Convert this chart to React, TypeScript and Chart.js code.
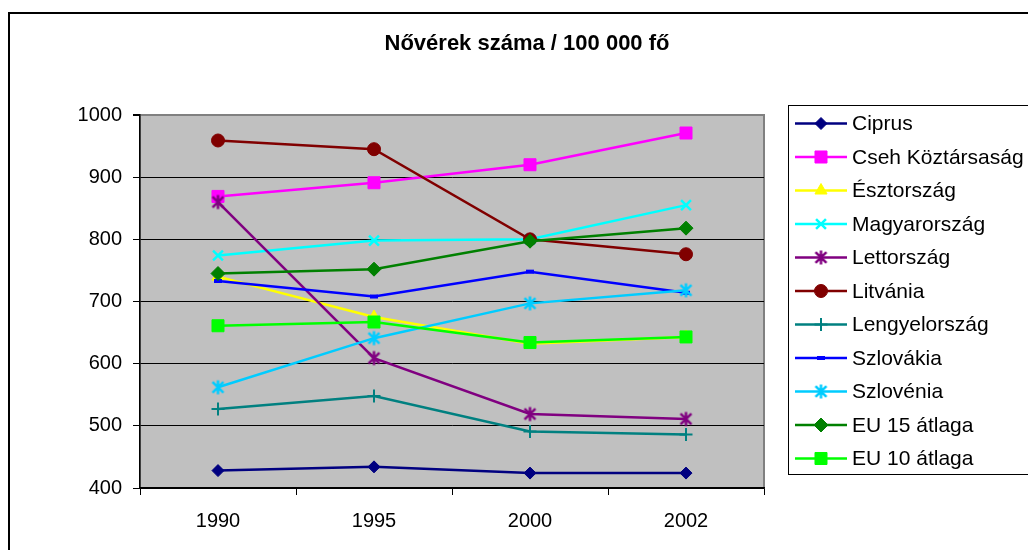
import React, { useEffect, useRef } from 'react';
import { Chart, registerables } from 'chart.js';

Chart.register(...registerables);

const FONT = '"Liberation Sans", Arial, Helvetica, sans-serif';
const chartTitle = 'Nővérek száma / 100 000 fő';

const years = ['1990', '1995', '2000', '2002'];

const ciprus = [428, 434, 424, 424];
const cseh = [869, 891, 920, 971];
const esztorszag = [740, 675, 632, 643];
const magyarorszag = [774, 798, 800, 855];
const lettorszag = [860, 609, 519, 511];
const litvania = [959, 945, 800, 776];
const lengyelorszag = [527, 548, 491, 486];
const szlovakia = [733, 708, 748, 714];
const szlovenia = [562, 641, 697, 718];
const eu15 = [745, 752, 797, 818];
const eu10 = [661, 667, 634, 643];

const seriesNames = [
  'Ciprus',
  'Cseh Köztársaság',
  'Észtország',
  'Magyarország',
  'Lettország',
  'Litvánia',
  'Lengyelország',
  'Szlovákia',
  'Szlovénia',
  'EU 15 átlaga',
  'EU 10 átlaga',
];
const seriesValues = [
  ciprus, cseh, esztorszag, magyarorszag, lettorszag, litvania,
  lengyelorszag, szlovakia, szlovenia, eu15, eu10,
];
const seriesColors = [
  '#000080', '#FF00FF', '#FFFF00', '#00FFFF', '#800080', '#800000',
  '#008080', '#0000FF', '#00CCFF', '#008000', '#00FF00',
];
const seriesMarkers = [
  'rectRot', 'rect', 'triangle', 'crossRot', 'asterisk', 'circle',
  'cross', 'line', 'asterisk', 'rectRot', 'rect',
];
const markerRadius = [6, 8.5, 7, 7, 7, 6.5, 6.5, 4, 7, 7, 8.5];
const markerBorder = [1, 1, 1, 2.5, 2.5, 1, 2, 4, 2.5, 1, 1];

const yMin = 400;
const yMax = 1000;
const yStep = 100;

function makeAsterisk(color: string, r: number, lw: number): HTMLCanvasElement {
  const c = document.createElement('canvas');
  const s = Math.ceil(2 * r + lw + 2);
  c.width = s;
  c.height = s;
  const g = c.getContext('2d')!;
  const cx = s / 2;
  g.strokeStyle = color;
  g.lineWidth = lw;
  g.lineCap = 'butt';
  const a = r * 0.78;
  g.beginPath();
  g.moveTo(cx, cx - r);
  g.lineTo(cx, cx + r);
  g.moveTo(cx - a, cx - a);
  g.lineTo(cx + a, cx + a);
  g.moveTo(cx - a, cx + a);
  g.lineTo(cx + a, cx - a);
  g.stroke();
  return c;
}

function drawMarker(ctx: CanvasRenderingContext2D, style: any, x: number, y: number, r: number, color: string, bw: number) {
  ctx.save();
  ctx.fillStyle = color;
  ctx.strokeStyle = color;
  ctx.lineWidth = bw;
  if (typeof style === 'object') {
    ctx.drawImage(style, x - style.width / 2, y - style.height / 2);
    ctx.restore();
    return;
  }
  ctx.beginPath();
  const s2 = Math.SQRT1_2 * r;
  switch (style) {
    case 'rectRot':
      ctx.moveTo(x - r, y);
      ctx.lineTo(x, y - r);
      ctx.lineTo(x + r, y);
      ctx.lineTo(x, y + r);
      ctx.closePath();
      ctx.fill();
      ctx.stroke();
      break;
    case 'rect':
      ctx.rect(x - s2, y - s2, 2 * s2, 2 * s2);
      ctx.fill();
      ctx.stroke();
      break;
    case 'triangle': {
      const t = (2 * Math.PI) / 3;
      ctx.moveTo(x, y - r);
      ctx.lineTo(x + Math.sin(t) * r, y - Math.cos(t) * r);
      ctx.lineTo(x + Math.sin(2 * t) * r, y - Math.cos(2 * t) * r);
      ctx.closePath();
      ctx.fill();
      ctx.stroke();
      break;
    }
    case 'circle':
      ctx.arc(x, y, r, 0, Math.PI * 2);
      ctx.fill();
      ctx.stroke();
      break;
    case 'crossRot':
      ctx.moveTo(x - s2, y - s2);
      ctx.lineTo(x + s2, y + s2);
      ctx.moveTo(x - s2, y + s2);
      ctx.lineTo(x + s2, y - s2);
      ctx.stroke();
      break;
    case 'cross':
      ctx.moveTo(x, y - r);
      ctx.lineTo(x, y + r);
      ctx.moveTo(x - r, y);
      ctx.lineTo(x + r, y);
      ctx.stroke();
      break;
    case 'line':
      ctx.moveTo(x - r, y);
      ctx.lineTo(x + r, y);
      ctx.stroke();
      break;
  }
  ctx.restore();
}

export default function App() {
  const ref = useRef<HTMLCanvasElement | null>(null);

  useEffect(() => {
    if (!ref.current) return;
    const styles: any[] = seriesMarkers.map((m, i) =>
      m === 'asterisk' ? makeAsterisk(seriesColors[i], markerRadius[i], markerBorder[i]) : m
    );
    const n = seriesNames.length;

    const deco = {
      id: 'deco',
      beforeDraw(chart: any) {
        const ctx: CanvasRenderingContext2D = chart.ctx;
        const a = chart.chartArea;
        ctx.save();
        ctx.fillStyle = '#ffffff';
        ctx.fillRect(0, 0, chart.width, chart.height);
        ctx.strokeStyle = '#000000';
        ctx.lineWidth = 2;
        ctx.strokeRect(9, 13, 1200, 700);
        ctx.fillStyle = '#C0C0C0';
        ctx.fillRect(a.left, a.top, a.right - a.left, a.bottom - a.top);
        ctx.strokeStyle = '#808080';
        ctx.lineWidth = 2;
        ctx.strokeRect(a.left, a.top, a.right - a.left, a.bottom - a.top);
        ctx.fillStyle = '#000000';
        ctx.font = `bold 22px ${FONT}`;
        ctx.textAlign = 'center';
        ctx.textBaseline = 'middle';
        ctx.fillText(chartTitle, 527, 44);
        ctx.restore();
      },
      afterDraw(chart: any) {
        const ctx: CanvasRenderingContext2D = chart.ctx;
        ctx.save();
        ctx.strokeStyle = '#000000';
        ctx.lineWidth = 1;
        ctx.strokeRect(788.5, 105.5, 400, 369);
        ctx.font = `21px ${FONT}`;
        ctx.textAlign = 'left';
        ctx.textBaseline = 'middle';
        for (let i = 0; i < n; i++) {
          const y = 123.5 + i * 33.5;
          ctx.strokeStyle = seriesColors[i];
          ctx.lineWidth = 2.5;
          ctx.beginPath();
          ctx.moveTo(795, y);
          ctx.lineTo(847, y);
          ctx.stroke();
          drawMarker(ctx, styles[i], 821, y, markerRadius[i], seriesColors[i], markerBorder[i]);
          ctx.fillStyle = '#000000';
          ctx.fillText(seriesNames[i], 852, y + 1);
        }
        ctx.restore();
      },
    };

    const chart = new Chart(ref.current, {
      type: 'line',
      data: {
        labels: years,
        datasets: seriesNames.map((name, i) => ({
          label: name,
          data: seriesValues[i],
          borderColor: seriesColors[i],
          backgroundColor: seriesColors[i],
          borderWidth: 2.5,
          pointStyle: styles[i],
          pointRadius: markerRadius[i],
          pointBorderWidth: markerBorder[i],
          pointBorderColor: seriesColors[i],
          pointBackgroundColor: seriesColors[i],
          tension: 0,
          fill: false,
          order: n - i,
        })),
      },
      options: {
        responsive: false,
        animation: false,
        events: [],
        layout: { padding: { left: 0, top: 115, right: 264, bottom: 0 } },
        plugins: {
          legend: { display: false },
          title: { display: false },
          tooltip: { enabled: false },
        },
        scales: {
          x: {
            type: 'category',
            offset: true,
            afterFit: (s: any) => { s.height = 62; },
            grid: {
              offset: true,
              drawOnChartArea: false,
              drawTicks: true,
              tickLength: 7,
              color: '#000000',
              tickColor: '#000000',
            },
            border: { display: true, color: '#000000', width: 1.5 },
            ticks: {
              color: '#000000',
              font: { family: FONT, size: 20 },
              padding: 14,
              maxRotation: 0,
              autoSkip: false,
            },
          },
          y: {
            min: yMin,
            max: yMax,
            afterFit: (s: any) => { s.width = 140; },
            grid: {
              color: (c: any) => (c.tick && c.tick.value === yMax ? '#808080' : '#000000'),
              lineWidth: (c: any) => (c.tick && c.tick.value === yMax ? 2 : 1),
              tickColor: '#000000',
              tickLength: 7,
              drawTicks: true,
            },
            border: { display: true, color: '#000000', width: 1.5 },
            ticks: {
              stepSize: yStep,
              color: '#000000',
              font: { family: FONT, size: 20 },
              padding: 11,
              callback: (v: any) => String(v),
            },
          },
        },
      },
      plugins: [deco],
    } as any);
    return () => chart.destroy();
  }, []);

  return (
    <div style={{ position: 'absolute', left: 0, top: 0, width: 1028, height: 550, background: '#fff' }}>
      <canvas ref={ref} width={1028} height={550} style={{ display: 'block', width: 1028, height: 550 }} />
    </div>
  );
}
